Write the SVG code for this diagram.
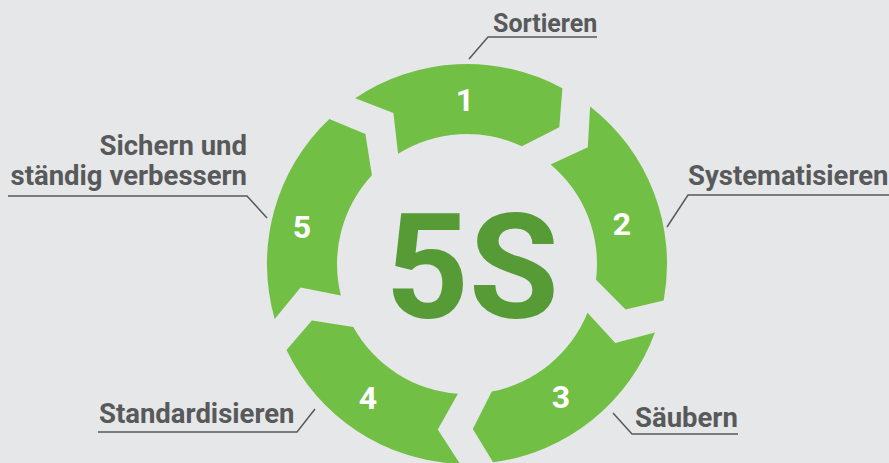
<svg xmlns="http://www.w3.org/2000/svg" width="889" height="463" viewBox="0 0 889 463">
<style>
.seg{fill:#72bf45}
.num{font-family:Roboto,"Liberation Sans",sans-serif;font-weight:700;font-size:32px;fill:#ffffff;text-anchor:middle}
.lbl{font-family:Roboto,"Liberation Sans",sans-serif;font-weight:700;font-size:27.5px;fill:#58595b}
.lead{fill:none;stroke:#58595b;stroke-width:1.5}
.big{font-family:Roboto,"Liberation Sans",sans-serif;font-weight:700;font-size:146px;fill:#569b35;text-anchor:middle}
</style>
<rect width="889" height="463" fill="#e6e7e8"/>
<g id="seg1">
<path class="seg" d="M355.2,98.2 A200,200 0 0 1 562.4,88.2 L559.3,127.2 L521.9,146.2 A130,130 0 0 0 398.1,153.8 L393.4,113.0 Z"/>
<text class="num" x="465" y="111">1</text>
</g>
<g id="seg2">
<path class="seg" d="M590.1,106.4 A200,200 0 0 1 663.7,300.4 L625.6,309.5 L596.0,279.8 A130,130 0 0 0 550.6,164.4 L587.8,147.3 Z"/>
<text class="num" x="622" y="235">2</text>
</g>
<g id="seg3">
<path class="seg" d="M654.9,332.4 A200,200 0 0 1 493.1,462.3 L472.8,428.9 L491.8,391.6 A130,130 0 0 0 587.5,312.7 L615.3,342.9 Z"/>
<text class="num" x="561" y="408">3</text>
</g>
<g id="seg4">
<path class="seg" d="M460.0,463.9 A200,200 0 0 1 286.5,350.1 L311.9,320.4 L353.3,327.0 A130,130 0 0 0 457.9,393.7 L437.8,429.4 Z"/>
<text class="num" x="368" y="409">4</text>
</g>
<g id="seg5">
<path class="seg" d="M274.7,319.1 A200,200 0 0 1 329.3,118.9 L365.4,134.0 L371.9,175.3 A130,130 0 0 0 340.9,295.4 L300.6,287.4 Z"/>
<text class="num" x="302" y="238">5</text>
</g>
<g id="center">
<text class="big" x="472" y="318">5S</text>
</g>
<g id="label-sortieren">
<text class="lbl" x="493" y="32" style="font-size:25px">Sortieren</text>
</g>
<g id="label-systematisieren">
<text class="lbl" x="688" y="185">Systematisieren</text>
</g>
<g id="label-sichern">
<text class="lbl" x="247" y="155" text-anchor="end">Sichern und</text>
<text class="lbl" x="247" y="185" text-anchor="end">ständig verbessern</text>
</g>
<g id="label-standardisieren">
<text class="lbl" x="99" y="423">Standardisieren</text>
</g>
<g id="label-saeubern">
<text class="lbl" x="635" y="427">Säubern</text>
</g>
<g id="connectors">
<polyline class="lead" points="469,59 488,37 597,37"/>
<polyline class="lead" points="667,227 688,195 889,195"/>
<polyline class="lead" points="267,218 247,196 8,196"/>
<polyline class="lead" points="315,409 297,432 98,432"/>
<polyline class="lead" points="613,413 632,434 738,434"/>
</g>
</svg>
